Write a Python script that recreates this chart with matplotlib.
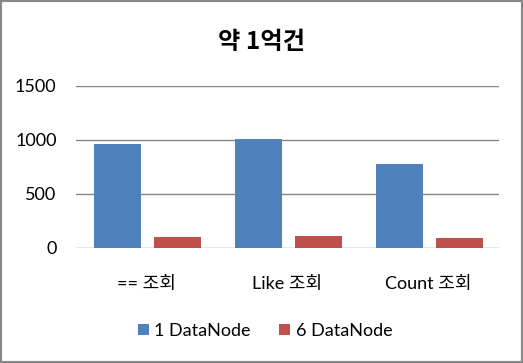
import matplotlib
matplotlib.use("Agg")
import matplotlib.pyplot as plt
from matplotlib.patches import Rectangle
import numpy as np

plt.rcParams['font.family'] = ['Lato', 'Noto Sans CJK KR', 'DejaVu Sans']

title = "약 1억건"
categories = ["== 조회", "Like 조회", "Count 조회"]
series_names = ["1 DataNode", "6 DataNode"]
series_1dn = [963, 1009, 780]
series_6dn = [102, 111, 95]
colors = ["#4F81BD", "#C0504D"]
yticks = [0, 500, 1000, 1500]

fig = plt.figure(figsize=(5.23, 3.63), dpi=100)
ax = fig.add_axes([76/523, 1-248/363, (499-76)/523, (248-86)/363])

x = np.arange(len(categories))
w = 0.333
b1 = ax.bar(x - 0.5 + 0.13 + w/2, series_1dn, width=w, color=colors[0], label=series_names[0], zorder=3)
b2 = ax.bar(x - 0.5 + 0.552 + w/2, series_6dn, width=w, color=colors[1], label=series_names[1], zorder=3)

ax.set_xlim(-0.5, len(categories) - 0.5)
ax.set_ylim(0, 1500)
ax.set_yticks(yticks)
ax.set_yticklabels([str(t) for t in yticks])
ax.set_xticks(x)
ax.set_xticklabels(categories)
ax.grid(axis='y', color='#868686', linewidth=1.0, zorder=0)
for s in ax.spines.values():
    s.set_visible(False)
ax.tick_params(axis='both', length=0, labelsize=13, colors='black')
ax.tick_params(axis='y', pad=14)
ax.tick_params(axis='x', pad=20)

fig.text(0.5, 1-42/363, title, ha='center', va='center', fontsize=17.5,
         fontweight='bold', family=['Noto Sans CJK KR', 'DejaVu Sans'])

leg = fig.legend(handles=[b1, b2], labels=series_names, loc='center',
                 bbox_to_anchor=(265/523, 1-331/363), ncol=2, frameon=False,
                 fontsize=13, handlelength=0.6, handleheight=0.6,
                 handletextpad=0.3, columnspacing=1.6)

fig.patches.append(Rectangle((0, 0), 1, 1, transform=fig.transFigure,
                             fill=False, edgecolor='#878787', linewidth=3))

fig.savefig("out.png", dpi=100)
